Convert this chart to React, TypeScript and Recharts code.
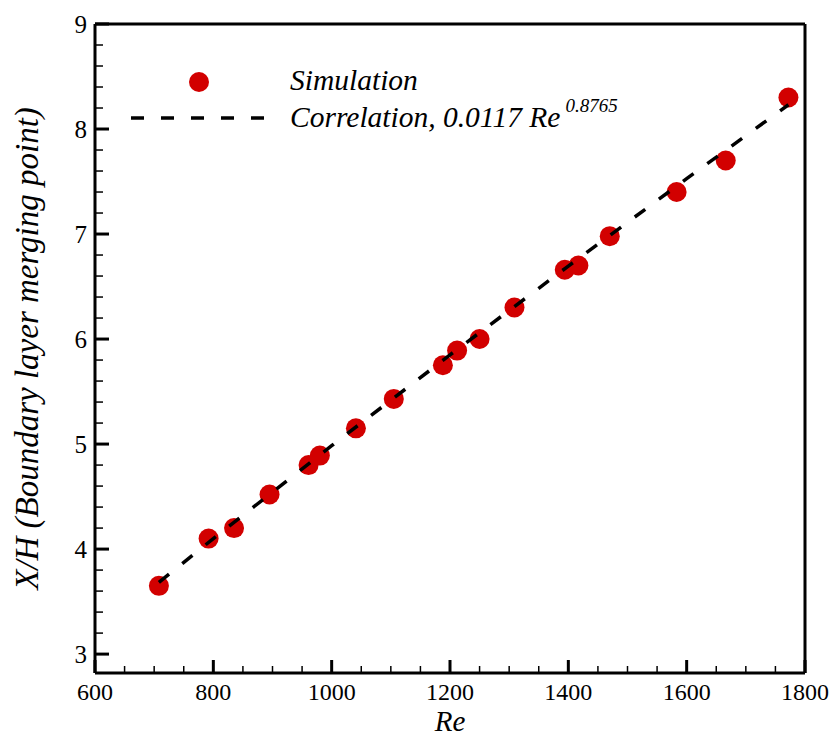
import {
  Customized,
  Label,
  ReferenceLine,
  Scatter,
  ScatterChart,
  XAxis,
  YAxis,
} from "recharts";

// simulated merging point, X/H against Re
const simRe = [708, 792, 835, 895, 961, 980, 1041, 1105, 1188, 1212, 1250, 1309, 1394, 1417, 1470, 1583, 1666, 1772];
const simXH = [3.65, 4.1, 4.2, 4.52, 4.8, 4.89, 5.15, 5.43, 5.75, 5.89, 6.0, 6.3, 6.66, 6.7, 6.98, 7.4, 7.7, 8.3];

// correlation 0.0117 Re^0.8765 sampled over the simulated range
const corrRe = [708, 800, 1000, 1200, 1400, 1600, 1772];
const corrXH = [3.683, 4.1, 4.985, 5.849, 6.695, 7.527, 8.231];

const xMajor = [600, 800, 1000, 1200, 1400, 1600, 1800];
const yMajor = [3, 4, 5, 6, 7, 8, 9];

const RED = "#d20000";
const FONT = "Liberation Serif, Tinos, Times New Roman, Times, serif";

const simData = simRe.map((re, i) => ({ re, xh: simXH[i] }));
const corrData = corrRe.map((re, i) => ({ re, xh: corrXH[i] }));

// three minor ticks between x majors, four between y majors
const xTicks = xMajor.flatMap((v, i) =>
  i === xMajor.length - 1 ? [v] : [v, v + 50, v + 100, v + 150]
);
const yTicks = yMajor.flatMap((v, i) =>
  i === yMajor.length - 1
    ? [v]
    : [0, 0.2, 0.4, 0.6, 0.8].map((d) => Math.round((v + d) * 10) / 10)
);

const txt = (size: number, italic = false) => ({
  fontFamily: FONT,
  fontSize: size,
  fontStyle: italic ? "italic" : "normal",
  fill: "#000",
});

const XTick = (props: any) => {
  const { x, y, payload } = props;
  const major = payload.value % 200 === 0;
  return (
    <g>
      <line x1={x} x2={x} y1={y} y2={y - (major ? 13 : 7)} stroke="#000" strokeWidth={major ? 3 : 1.5} />
      {major && (
        <text x={x} y={y + 27} textAnchor="middle" style={txt(24)}>
          {payload.value}
        </text>
      )}
    </g>
  );
};

const YTick = (props: any) => {
  const { x, y, payload } = props;
  const major = Number.isInteger(payload.value);
  return (
    <g>
      <line x1={x} x2={x + (major ? 14 : 8)} y1={y} y2={y} stroke="#000" strokeWidth={major ? 3 : 1.5} />
      {major && (
        <text x={x - 8} y={y + 9} textAnchor="end" style={txt(25)}>
          {payload.value}
        </text>
      )}
    </g>
  );
};

const LegendBox = () => (
  <g>
    <circle cx={199} cy={82} r={10} fill={RED} />
    <text x={290} y={90} style={txt(29.5, true)}>
      Simulation
    </text>
    <line x1={131} x2={265} y1={118} y2={118} stroke="#000" strokeWidth={3.5} strokeDasharray="13 17" />
    <text x={290} y={127} style={txt(29.5, true)}>
      Correlation, 0.0117 Re
      <tspan dx={5} dy={-15} style={{ fontSize: 19 }}>
        0.8765
      </tspan>
    </text>
  </g>
);

const dot = (p: any) => <circle cx={p.cx} cy={p.cy} r={10} fill={RED} />;

export default function App() {
  return (
    <div style={{ position: "absolute", left: 0, top: 0, background: "#fff" }}>
      <ScatterChart width={833} height={738} margin={{ top: 24, right: 28, bottom: 0, left: 0 }}>
        <XAxis
          type="number"
          dataKey="re"
          domain={[600, 1800]}
          ticks={xTicks}
          interval={0}
          tickSize={0}
          tickMargin={0}
          tick={<XTick />}
          height={65}
          axisLine={{ stroke: "#000", strokeWidth: 3 }}
        >
          <Label
            content={({ viewBox }: any) => (
              <text
                x={viewBox.x + viewBox.width / 2}
                y={viewBox.y + 58}
                textAnchor="middle"
                style={txt(29, true)}
              >
                Re
              </text>
            )}
          />
        </XAxis>
        <YAxis
          type="number"
          dataKey="xh"
          domain={[2.82, 9]}
          ticks={yTicks}
          interval={0}
          tickSize={0}
          tickMargin={0}
          tick={<YTick />}
          width={95}
          axisLine={{ stroke: "#000", strokeWidth: 3 }}
        >
          <Label
            content={({ viewBox }: any) => {
              const cx = viewBox.x + 38;
              const cy = viewBox.y + viewBox.height / 2;
              return (
                <text
                  x={cx}
                  y={cy}
                  transform={`rotate(-90, ${cx}, ${cy})`}
                  textAnchor="middle"
                  style={txt(33, true)}
                >
                  X/H (Boundary layer merging point)
                </text>
              );
            }}
          />
        </YAxis>
        <ReferenceLine y={9} stroke="#000" strokeWidth={3} />
        <ReferenceLine x={1800} stroke="#000" strokeWidth={3} />
        <Scatter data={simData} shape={dot} isAnimationActive={false} />
        <Scatter
          data={corrData}
          line={{ stroke: "#000", strokeWidth: 3.5, strokeDasharray: "13 17" }}
          lineType="joint"
          shape={() => <g />}
          isAnimationActive={false}
        />
        <Customized component={<LegendBox />} />
      </ScatterChart>
    </div>
  );
}
